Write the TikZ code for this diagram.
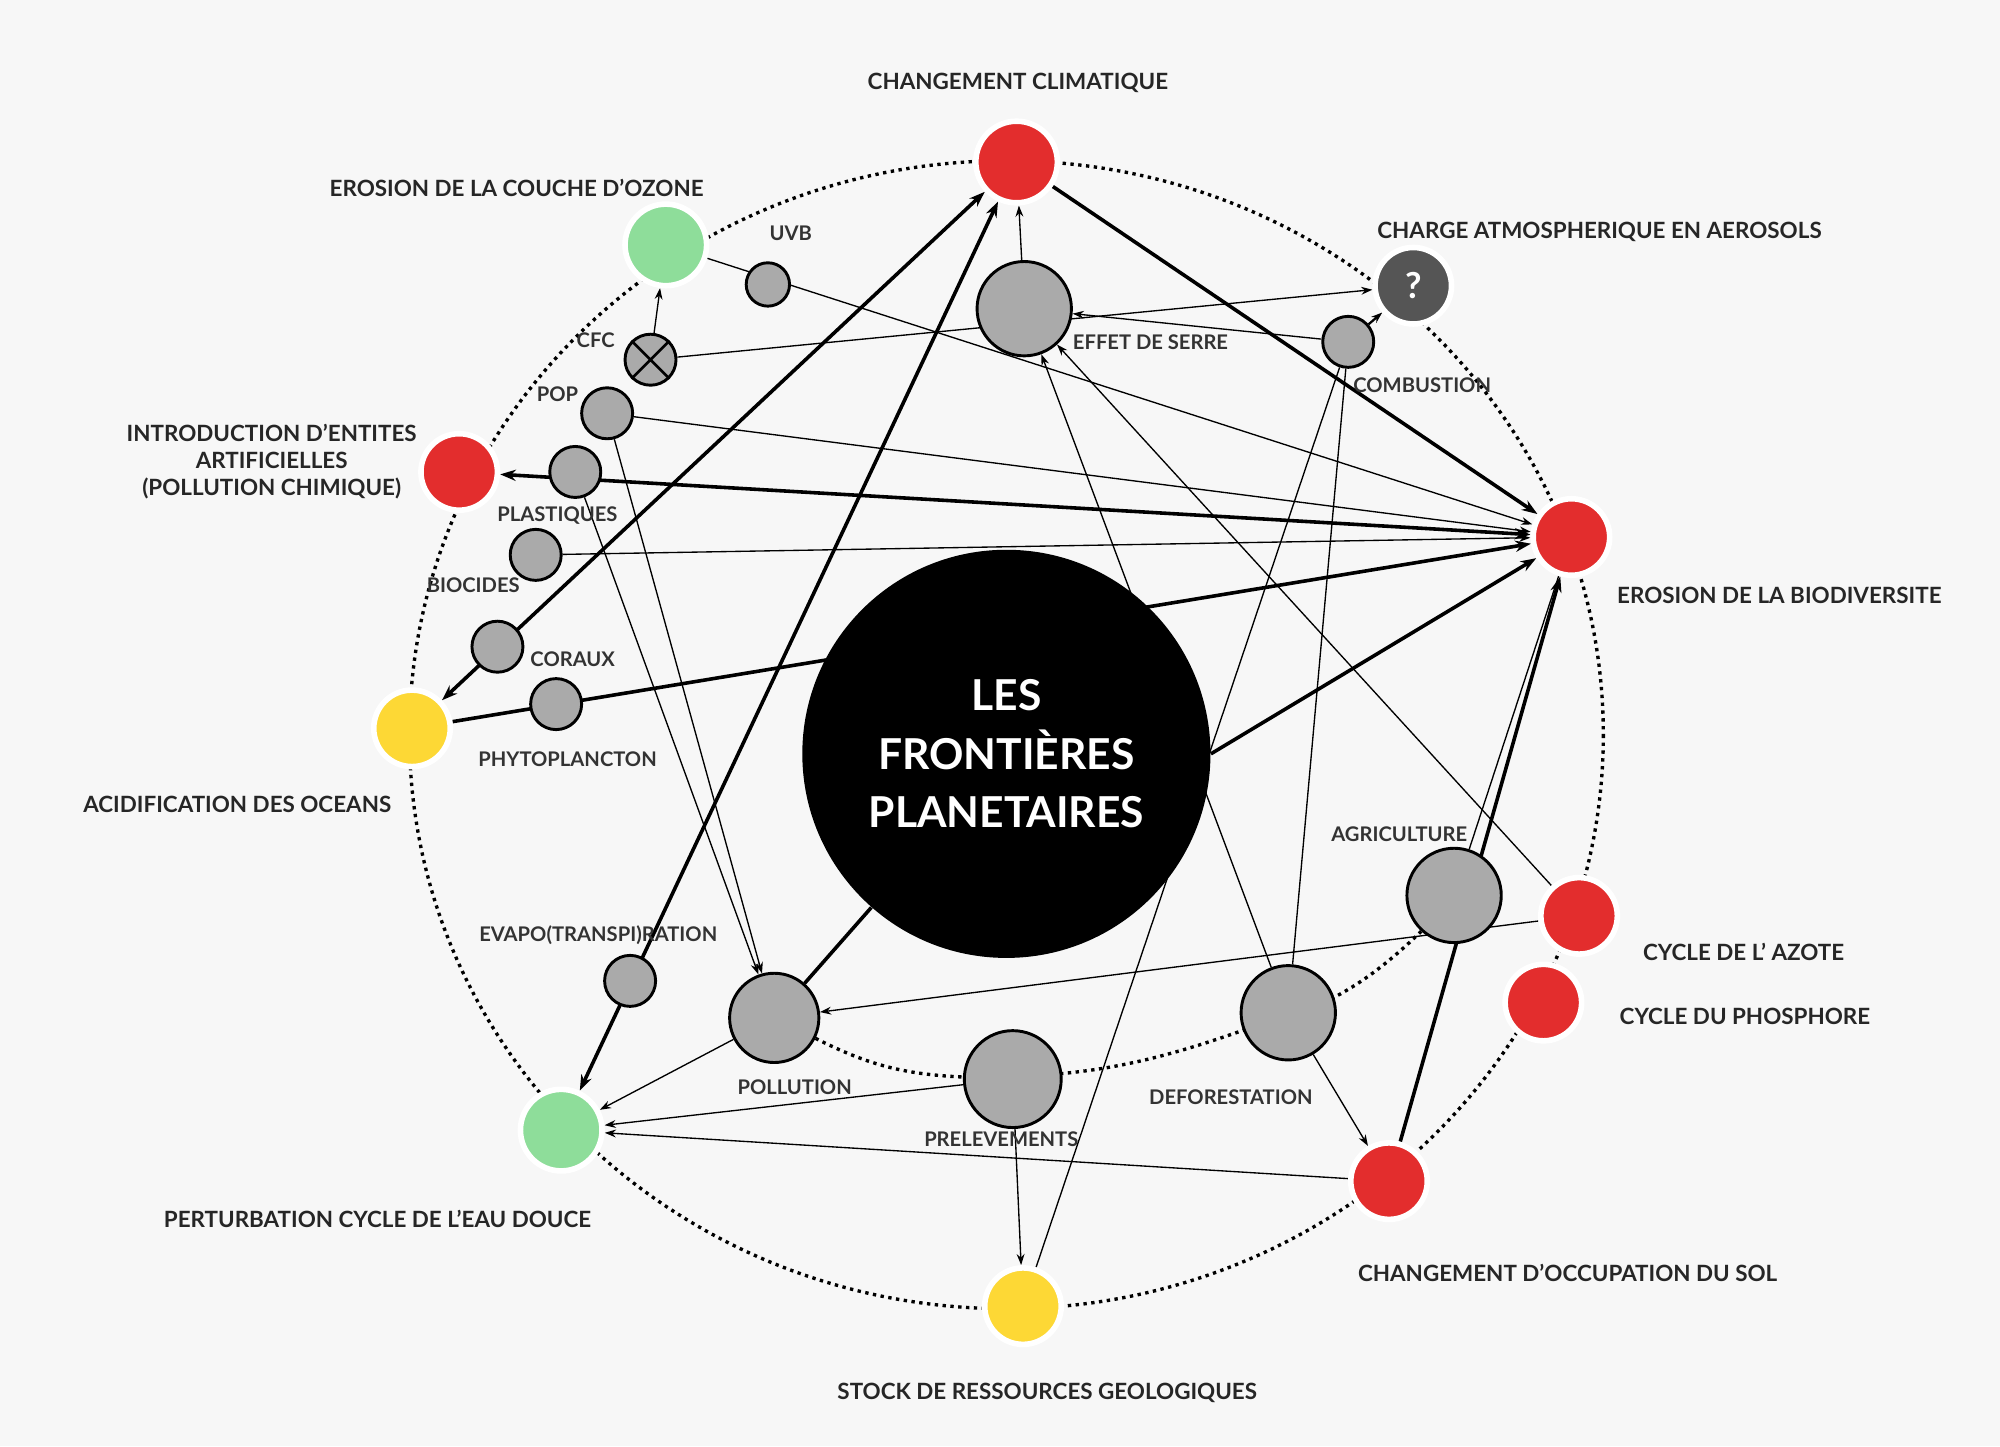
\documentclass[tikz,border=0pt]{standalone}
\usepackage{fontspec}
\setmainfont{Lato}
\usetikzlibrary{arrows.meta}
\pgfdeclarelayer{back}\pgfdeclarelayer{bg}
\pgfsetlayers{back,bg,main}
\definecolor{bgc}{HTML}{F7F7F7}
\definecolor{rd}{HTML}{E32D2D}
\definecolor{gn}{HTML}{8EDD9A}
\definecolor{yl}{HTML}{FDD835}
\definecolor{dk}{HTML}{555555}
\definecolor{gr}{HTML}{AAAAAA}
\begin{document}
\begin{tikzpicture}[x=0.02cm,y=-0.02cm,
 big/.style={circle,draw=white,line width=2.5pt,minimum size=#1*0.04cm,inner sep=0},
 sm/.style={circle,draw=black,fill=gr,line width=1.3pt,minimum size=#1*0.04cm,inner sep=0},
 lab/.style={font=\bfseries\fontsize{10}{12}\selectfont,text=black!85,align=center},
 sl/.style={font=\fontsize{9}{11}\selectfont\bfseries,text=black!80},
 thk/.style={line width=1.6pt},
 thn/.style={line width=0.6pt},
 ar/.style={-{Stealth[length=7pt,width=5pt]}},
 ar2/.style={{Stealth[length=7pt,width=5pt]}-{Stealth[length=7pt,width=5pt]}},
 ars/.style={-{Stealth[length=5pt,width=3.5pt]}}]
\begin{pgfonlayer}{back}
\fill[bgc] (0,0) rectangle (1568,1134);
\draw[line width=1.5pt,dotted] (789,576) ellipse [x radius=468,y radius=450];
\end{pgfonlayer}
% big nodes
\node[big=32,fill=rd] (cc) at (797,127) {};
\node[big=32,fill=gn] (oz) at (522,192) {};
\node[big=30,fill=dk,font=\bfseries\fontsize{16}{18}\selectfont,text=white] (ae) at (1108,224) {?};
\node[big=30,fill=rd] (ie) at (360,370) {};
\node[big=30,fill=rd] (bio) at (1232,421) {};
\node[big=30,fill=yl] (ac) at (323,571) {};
\node[big=30,fill=rd] (az) at (1238,718) {};
\node[big=30,fill=rd] (ph) at (1210,786) {};
\node[big=30,fill=rd] (sol) at (1089,926) {};
\node[big=32,fill=gn] (eau) at (440,886) {};
\node[big=30,fill=yl] (geo) at (802,1024) {};
\node[circle,fill=black,minimum size=320*0.02cm,inner sep=0,text=white,align=center,font=\bfseries\fontsize{19}{26}\selectfont] (c) at (789,591) {LES\\FRONTIÈRES\\PLANETAIRES};
% small nodes
\node[sm=17] (uvb) at (602,223) {};
\node[sm=37] (es) at (803,242) {};
\node[sm=20] (comb) at (1057,268) {};
\node[sm=20] (cfc) at (510,282) {};
\draw[line width=1.2pt] (cfc.north west) -- (cfc.south east) (cfc.north east) -- (cfc.south west);
\node[sm=20] (pop) at (476,324) {};
\node[sm=20] (pl) at (451,370) {};
\node[sm=20] (bc) at (420,435) {};
\node[sm=20] (cor) at (390,507) {};
\node[sm=20] (phy) at (436,552) {};
\node[sm=37] (agr) at (1140,702) {};
\node[sm=20] (ev) at (494,769) {};
\node[sm=35] (pol) at (607,798) {};
\node[sm=38] (pre) at (794,846) {};
\node[sm=37] (def) at (1010,794) {};
% labels
\node[lab] (l1) at (798,65) {CHANGEMENT CLIMATIQUE};
\node[lab] (l2) at (405,147) {EROSION DE LA COUCHE D'OZONE};
\node[lab] (l3) at (1254,182) {CHARGE ATMOSPHERIQUE EN AEROSOLS};
\node[lab] (l4) at (213,362) {INTRODUCTION D'ENTITES\\ARTIFICIELLES\\(POLLUTION CHIMIQUE)};
\node[lab] (l5) at (1395,467) {EROSION DE LA BIODIVERSITE};
\node[lab] (l6) at (186,631) {ACIDIFICATION DES OCEANS};
\node[lab] (l7) at (1367,746) {CYCLE DE L' AZOTE};
\node[lab] (l8) at (1368,797) {CYCLE DU PHOSPHORE};
\node[lab] (l9) at (1229,998) {CHANGEMENT D'OCCUPATION DU SOL};
\node[lab] (l10) at (296,956) {PERTURBATION CYCLE DE L'EAU DOUCE};
\node[lab] (l11) at (821,1092) {STOCK DE RESSOURCES GEOLOGIQUES};
\node[sl] (s1) at (620,183) {UVB};
\node[sl] (s2) at (902,268) {EFFET DE SERRE};
\node[sl] (s3) at (1115,302) {COMBUSTION};
\node[sl] (s4) at (467,267) {CFC};
\node[sl] (s5) at (437,309) {POP};
\node[sl] (s6) at (437,404) {PLASTIQUES};
\node[sl] (s7) at (371,459) {BIOCIDES};
\node[sl] (s8) at (449,517) {CORAUX};
\node[sl] (s9) at (445,595) {PHYTOPLANCTON};
\node[sl] (s10) at (1097,654) {AGRICULTURE};
\node[sl] (s11) at (469,733) {EVAPO(TRANSPI)RATION};
\node[sl] (s12) at (623,852) {POLLUTION};
\node[sl] (s13) at (785,893) {PRELEVEMENTS};
\node[sl] (s14) at (965,860) {DEFORESTATION};
\begin{pgfonlayer}{bg}
\draw[line width=1.5pt,dotted] (pol) to[bend right=12] (pre) to[bend right=10] (def) to[bend right=15] (agr);
% thick
\draw[thk,ar] (cc) -- (bio);
\draw[thk,ar2] (ac) -- (cc);
\draw[thk,ar2] (eau) -- (cc);
\draw[thk,ar2] (ie) -- (bio);
\draw[thk,ar] (ac) -- (bio);
\draw[thk,ar] (c.east) -- (bio);
\draw[thk] (pol) -- (c);
\draw[thk,ar] (sol) -- (bio);
% thin
\draw[thn,ars] (oz) -- (bio);
\draw[thn,ars] (pop) -- (bio);
\draw[thn,ars] (bc) -- (bio);
\draw[thn,ars] (cfc) -- (oz);
\draw[thn,ars] (cfc) -- (ae);
\draw[thn,ars] (comb) -- (es);
\draw[line width=1pt,ars] (comb) -- (ae);
\draw[thn,ars] (es) -- (cc);
\draw[thn,ars] (az) -- (es);
\draw[thn,ars] (def) -- (es);
\draw[thn] (def) -- (comb);
\draw[thn] (geo) -- (comb);
\draw[thn] (agr) -- (bio);
\draw[thn,ars] (az) -- (pol);
\draw[thn,ars] (def) -- (sol);
\draw[thn,ars] (pre) -- (geo);
\draw[thn,ars] (pre) -- (eau);
\draw[thn,ars] (pol) -- (eau);
\draw[thn,ars] (sol) -- (eau);
\draw[thn,ars] (pop) -- (pol);
\draw[thn,ars] (pl) -- (pol);
\end{pgfonlayer}
\end{tikzpicture}
\end{document}
